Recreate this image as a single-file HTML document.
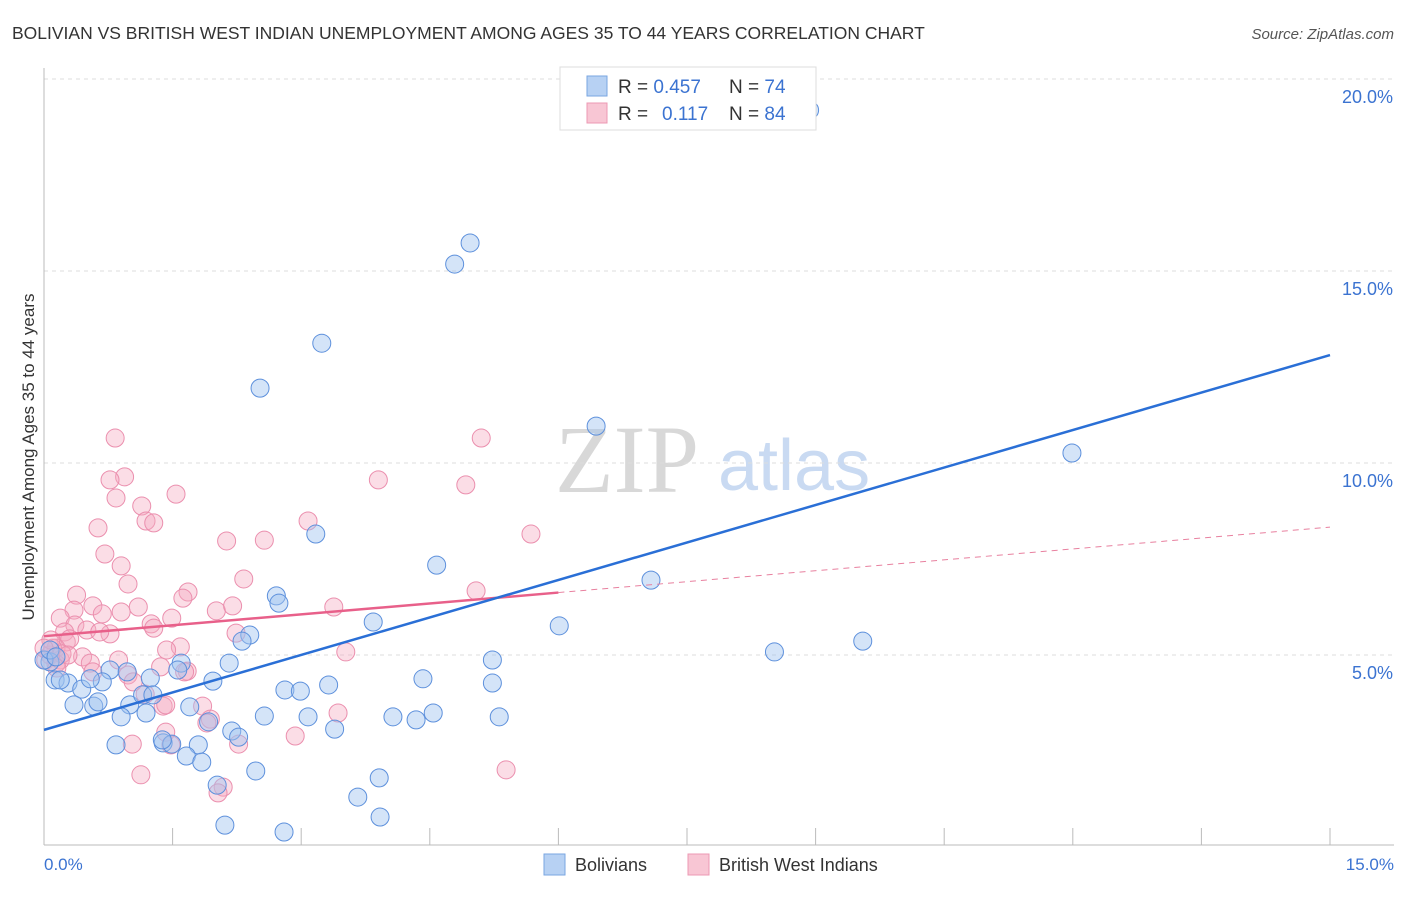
<!DOCTYPE html>
<html><head><meta charset="utf-8"><style>
body{margin:0;background:#fff;font-family:"Liberation Sans",sans-serif;}
</style></head><body>
<svg width="1406" height="892" xmlns="http://www.w3.org/2000/svg">
<text x="12" y="39" font-size="17.5" fill="#333">BOLIVIAN VS BRITISH WEST INDIAN UNEMPLOYMENT AMONG AGES 35 TO 44 YEARS CORRELATION CHART</text>
<text x="1394" y="39" font-size="15" fill="#555" font-style="italic" text-anchor="end">Source: ZipAtlas.com</text>
<text x="555" y="492" font-size="96" fill="#d8d8d8" font-family="Liberation Serif,serif">ZIP</text>
<text x="718" y="490" font-size="72" fill="#c9daf2">atlas</text>
<g id="grid"></g>
<line x1="44" y1="68" x2="44" y2="845" stroke="#bbb"/>
<line x1="44" y1="845" x2="1394" y2="845" stroke="#bbb"/>
<text transform="translate(34,457) rotate(-90)" font-size="17" fill="#333" text-anchor="middle">Unemployment Among Ages 35 to 44 years</text>
<text x="44" y="870" font-size="17" fill="#3b73d1">0.0%</text>
<text x="1394" y="870" font-size="17" fill="#3b73d1" text-anchor="end">15.0%</text>
<g id="points"></g>
<g id="lines"></g>
<g>
<rect x="560" y="67" width="256" height="63" fill="#fff" stroke="#ddd"/>
<rect x="587" y="76" width="20" height="20" fill="#b7d1f3" stroke="#7aa6e2"/>
<rect x="587" y="103" width="20" height="20" fill="#f8c6d4" stroke="#ec98b3"/>
<text x="618" y="93" font-size="19" fill="#333">R = <tspan fill="#3b73d1">0.457</tspan><tspan x="729">N = </tspan><tspan fill="#3b73d1">74</tspan></text>
<text x="618" y="120" font-size="19" fill="#333">R = <tspan x="662" fill="#3b73d1">0.117</tspan><tspan x="729">N = </tspan><tspan fill="#3b73d1">84</tspan></text>
</g>
<g>
<rect x="544" y="854" width="21" height="21" fill="#b7d1f3" stroke="#7aa6e2"/>
<text x="575" y="871" font-size="18" fill="#333">Bolivians</text>
<rect x="688" y="854" width="21" height="21" fill="#f8c6d4" stroke="#ec98b3"/>
<text x="719" y="871" font-size="18" fill="#333">British West Indians</text>
</g>
</svg>
<script>
const yTicks=[5,10,15,20];
const yTickLabels=["5.0%","10.0%","15.0%","20.0%"];
const xTicks=[0,1.5,3,4.5,6,7.5,9,10.5,12,13.5,15];
const blueX=[8.93,4.97,4.79,3.24,2.52,6.44,11.99,3.17,4.58,7.08,2.71,2.74,6.01,3.84,9.55,2.40,2.31,8.52,5.23,1.60,2.16,1.56,0.77,0.97,0.07,0.13,0.28,0.44,0.68,0.54,1.97,1.24,3.32,2.81,2.99,4.42,5.23,0.19,0.35,0.58,0.63,1.00,1.15,1.70,0.90,1.19,2.57,3.08,3.39,4.07,4.34,4.54,5.31,1.92,2.19,2.27,1.39,1.49,1.80,0.84,1.66,1.84,2.47,3.91,3.66,2.02,2.11,3.92,2.80,1.27,1.38,0.0,0.07,0.14];
const blueY=[19.19,15.73,15.18,13.12,11.95,10.96,10.26,8.15,7.34,6.95,6.54,6.35,5.76,5.86,5.36,5.52,5.36,5.08,4.87,4.79,4.79,4.61,4.61,4.56,4.82,4.35,4.27,4.11,4.30,4.38,4.32,4.40,4.22,4.09,4.06,4.38,4.27,4.35,3.70,3.67,3.78,3.70,3.96,3.65,3.39,3.49,3.41,3.39,3.07,3.39,3.31,3.49,3.39,3.26,3.02,2.86,2.71,2.68,2.66,2.66,2.37,2.21,1.98,1.80,1.30,1.61,0.57,0.78,0.39,3.96,2.79,4.87,5.13,4.95];
const pinkX=[0.83,5.10,0.94,0.77,1.54,3.90,4.92,0.84,1.14,1.19,1.28,3.08,0.63,5.68,2.13,2.57,0.71,0.90,2.33,0.98,0.38,1.68,5.04,1.62,0.57,1.10,0.35,0.90,2.01,2.20,3.38,0.19,0.68,0.36,1.25,1.49,1.28,0.77,0.24,0.50,0.65,2.24,0.26,0.30,1.59,0.14,3.52,1.43,0.45,0.87,1.36,0.54,1.67,1.64,0.98,1.04,0.57,1.18,1.39,1.42,1.85,1.94,1.90,3.43,2.93,1.42,1.48,2.27,1.03,1.13,5.39,2.09,2.03,0.07,0.10,0.19,0.02,0.14,0.08,0.21,0.0,0.15,0.28];
const pinkY=[10.65,10.65,9.64,9.56,9.19,9.56,9.43,9.09,8.88,8.49,8.44,8.49,8.31,8.15,7.97,7.99,7.63,7.32,6.98,6.85,6.56,6.64,6.67,6.48,6.28,6.25,6.17,6.12,6.15,6.28,6.25,5.96,6.07,5.78,5.81,5.96,5.70,5.55,5.60,5.65,5.60,5.57,5.34,5.42,5.21,5.18,5.08,5.13,4.95,4.87,4.69,4.79,4.58,4.56,4.48,4.30,4.56,3.98,3.67,3.70,3.67,3.33,3.23,3.49,2.89,2.99,2.66,2.68,2.68,1.88,2.01,1.56,1.41,5.00,5.18,4.87,4.87,4.77,5.39,5.03,5.18,4.66,5.00];
const blueTrend=[3.05,12.81];
const pinkTrend=[5.49,8.33];
const pinkSolidEnd=6.0;
const NS="http://www.w3.org/2000/svg";
const X=v=>44+v*1286/15;
const Y=v=>847-v*38.4;
function mk(tag,attrs,parent){const e=document.createElementNS(NS,tag);for(const k in attrs)e.setAttribute(k,attrs[k]);parent.appendChild(e);return e;}
const grid=document.getElementById('grid');
yTicks.forEach((t,i)=>{
 const l=mk('line',{x1:44,x2:1394,y1:Y(t),y2:Y(t),stroke:'#ddd','stroke-dasharray':'4,4'},grid);
 
 
 const tx=mk('text',{x:1393,y:Y(t)+24,'font-size':18,fill:'#3b73d1','text-anchor':'end'},grid);
 tx.textContent=yTickLabels[i];
 
 
});
xTicks.forEach(t=>{
 const l=mk('line',{x1:X(t),x2:X(t),y1:828,y2:845,stroke:'#bbb'},grid);
 
 
});
const pts=document.getElementById('points');
pinkX.forEach((v,i)=>{
 const c=mk('circle',{cx:X(v),cy:Y(pinkY[i]),r:9,fill:'rgba(244,170,192,0.4)',stroke:'#eb8fae','stroke-width':1},pts);
 
 
});
blueX.forEach((v,i)=>{
 const c=mk('circle',{cx:X(v),cy:Y(blueY[i]),r:9,fill:'rgba(160,195,240,0.45)',stroke:'#5d90dc','stroke-width':1},pts);
 
 
});
const ln=document.getElementById('lines');
const pAt=x=>pinkTrend[0]+(pinkTrend[1]-pinkTrend[0])*x/15;
let a=mk('line',{x1:X(0),y1:Y(pinkTrend[0]),x2:X(pinkSolidEnd),y2:Y(pAt(pinkSolidEnd)),stroke:'#e8608a','stroke-width':2.5},ln);


let b=mk('line',{x1:X(pinkSolidEnd),y1:Y(pAt(pinkSolidEnd)),x2:X(15),y2:Y(pinkTrend[1]),stroke:'#e8809f','stroke-width':1,'stroke-dasharray':'6,5'},ln);


let c=mk('line',{x1:X(0),y1:Y(blueTrend[0]),x2:X(15),y2:Y(blueTrend[1]),stroke:'#2a6fd6','stroke-width':2.5},ln);


</script>
</body></html>
